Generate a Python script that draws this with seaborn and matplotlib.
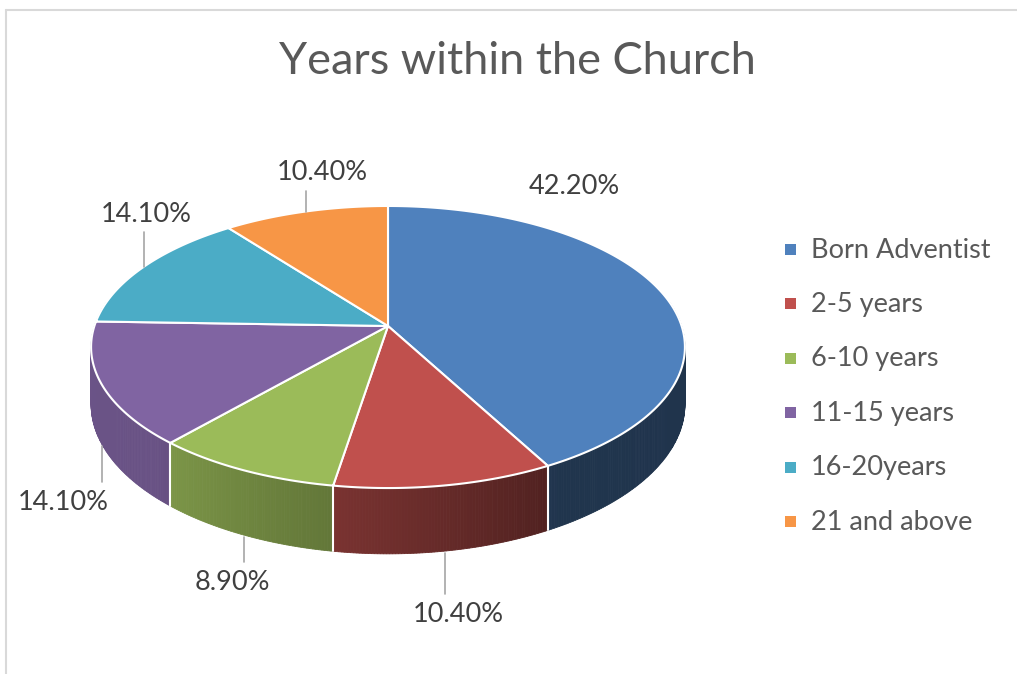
import numpy as np
import matplotlib.pyplot as plt
import seaborn as sns
from matplotlib.patches import Polygon, Rectangle

# data
categories = ['Born Adventist', '2-5 years', '6-10 years', '11-15 years', '16-20years', '21 and above']
shares = [42.2, 10.4, 8.9, 14.1, 14.1, 10.4]
colors = ['#4F81BD', '#C0504D', '#9BBB59', '#8064A2', '#4BACC6', '#F79646']

# label centres (pixels) for the data labels
label_pos = [(574, 186), (458, 615), (232, 583), (63, 503), (146, 214), (322, 173)]

sns.set_style('white')
plt.rcParams['font.family'] = ['Lato', 'DejaVu Sans']

# perspective disk settings (pixels)
CX, CY = 388, 326
RX, RY = 293.6, 137.9
K = 0.149
DEPTH = 56


def proj(theta, drop=0.0):
    t = np.radians(theta)
    u, v = np.sin(t), np.cos(t)
    s = 1.0 / (1.0 + K * v)
    return CX + RX * u * s, CY - RY * v * s + drop * s


def shade(theta):
    return np.interp(theta, [90, 150, 190, 225, 275], [0.40, 0.41, 0.64, 0.82, 0.84])


palette = sns.color_palette(colors)
bounds = np.concatenate([[0], np.cumsum(shares)]) / sum(shares) * 360

fig = plt.figure(figsize=(10.17, 6.74), dpi=100)
ax = fig.add_axes([0, 0, 1, 1])
ax.set_xlim(0, 1017)
ax.set_ylim(674, 0)
ax.axis('off')

# chart border
ax.plot([6, 6], [9.5, 674], color='#D9D9D9', lw=1.5)
ax.plot([6, 1017], [9.5, 9.5], color='#D9D9D9', lw=1.5)

# side walls (front part only)
pieces = []
for i in range(len(shares)):
    a, b = bounds[i], bounds[i + 1]
    lo, hi = max(a, 80), min(b, 280)
    if hi <= lo:
        continue
    steps = np.arange(lo, hi, 0.5)
    steps = np.append(steps, hi)
    for t0, t1 in zip(steps[:-1], steps[1:]):
        pieces.append((np.cos(np.radians(t0)), t0, t1, i))
pieces.sort(key=lambda p: -p[0])
for _, t0, t1, i in pieces:
    f = shade((t0 + t1) / 2)
    c = tuple(np.array(palette[i]) * f)
    pts = [proj(t0), proj(t1), proj(t1, DEPTH), proj(t0, DEPTH)]
    ax.add_patch(Polygon(pts, closed=True, facecolor=c, edgecolor=c, lw=0.6))

# white dividers on the side walls
for t in bounds[1:-1]:
    if 98.6 < t < 261.4:
        x0, y0 = proj(t)
        x1, y1 = proj(t, DEPTH)
        ax.plot([x0, x1], [y0, y1], color='white', lw=1.5)

# top faces
for i in range(len(shares)):
    a, b = bounds[i], bounds[i + 1]
    arc = np.linspace(a, b, 200)
    pts = [(CX, CY)] + [proj(t) for t in arc]
    ax.add_patch(Polygon(pts, closed=True, facecolor=palette[i], edgecolor='white', lw=1.5, joinstyle='round'))

# data labels with leader lines
for i, v in enumerate(shares):
    mid = (bounds[i] + bounds[i + 1]) / 2
    lx, ly = label_pos[i]
    ax.text(lx, ly, f'{v:.2f}%', ha='center', va='center', fontsize=19.5, color='#404040')
    if i == 0:
        continue
    if np.cos(np.radians(mid)) > 0:
        x0, y0 = proj(mid)
        ax.plot([x0, x0], [y0, ly + 18], color='#A6A6A6', lw=1.2)
    else:
        x0, y0 = proj(mid, DEPTH)
        ax.plot([x0, x0], [y0 + 2, ly - 21], color='#A6A6A6', lw=1.2)

# title
ax.text(517, 62, 'Years within the Church', ha='center', va='center', fontsize=32.5, color='#595959')

# legend
for i, name in enumerate(categories):
    y = 250 + i * 54.4
    ax.add_patch(Rectangle((785, y - 6), 11, 11, facecolor=palette[i], edgecolor='none'))
    ax.text(811, y, name, ha='left', va='center', fontsize=19.5, color='#595959')

fig.savefig('out.png', dpi=100)
